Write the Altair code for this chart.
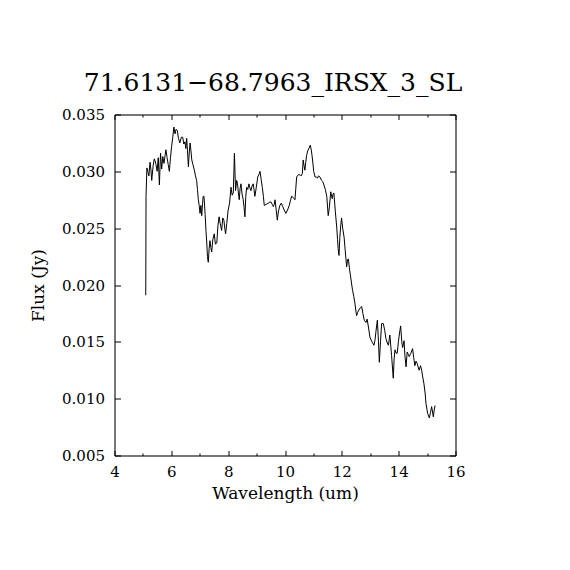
import altair as alt
import pandas as pd

wavelength = [
    5.10, 5.11, 5.14, 5.17, 5.21, 5.25, 5.28, 5.31, 5.36, 5.40, 5.43, 5.46, 5.50, 5.54, 5.58,
    5.62, 5.66, 5.70, 5.74, 5.78, 5.81, 5.85, 5.89, 5.93, 5.97, 6.01, 6.05, 6.09, 6.13, 6.17,
    6.21, 6.25, 6.30, 6.35, 6.40, 6.44, 6.48, 6.51, 6.54, 6.57, 6.60, 6.63, 6.66, 6.69, 6.72,
    6.76, 6.81, 6.85, 6.89, 6.92, 6.95, 6.98, 7.01, 7.04, 7.07, 7.10, 7.12, 7.15, 7.19, 7.22,
    7.25, 7.27, 7.30, 7.33, 7.36, 7.39, 7.42, 7.46, 7.51, 7.55, 7.60, 7.64, 7.68, 7.72, 7.77,
    7.81, 7.85, 7.88, 7.91, 7.95, 8.00, 8.05, 8.10, 8.14, 8.18, 8.22, 8.26, 8.30, 8.33, 8.36,
    8.39, 8.42, 8.45, 8.49, 8.53, 8.56, 8.59, 8.62, 8.65, 8.69, 8.73, 8.76, 8.80, 8.84, 8.88,
    8.91, 8.94, 8.99, 9.04, 9.08, 9.12, 9.16, 9.20, 9.24, 9.27, 9.34, 9.41, 9.47, 9.51, 9.55,
    9.59, 9.62, 9.65, 9.69, 9.73, 9.77, 9.82, 9.87, 9.92, 9.97, 10.03, 10.09, 10.15, 10.19,
    10.23, 10.29, 10.35, 10.38, 10.41, 10.47, 10.53, 10.57, 10.61, 10.64, 10.67, 10.70, 10.73,
    10.76, 10.80, 10.84, 10.89, 10.93, 10.97, 11.01, 11.06, 11.10, 11.14, 11.18, 11.23, 11.29,
    11.33, 11.37, 11.42, 11.47, 11.52, 11.56, 11.61, 11.64, 11.66, 11.69, 11.72, 11.77, 11.82,
    11.85, 11.87, 11.90, 11.93, 11.96, 11.99, 12.03, 12.08, 12.12, 12.17, 12.20, 12.23, 12.27,
    12.31, 12.35, 12.38, 12.42, 12.46, 12.49, 12.52, 12.56, 12.60, 12.65, 12.70, 12.74, 12.79,
    12.85, 12.89, 12.93, 12.99, 13.06, 13.13, 13.17, 13.20, 13.25, 13.29, 13.32, 13.36, 13.40,
    13.46, 13.51, 13.55, 13.60, 13.64, 13.69, 13.75, 13.81, 13.84, 13.87, 13.91, 13.95, 13.99,
    14.02, 14.07, 14.11, 14.14, 14.19, 14.22, 14.26, 14.30, 14.34, 14.37, 14.43, 14.49, 14.53,
    14.57, 14.61, 14.65, 14.72, 14.77, 14.81, 14.84, 14.89, 14.93, 14.96, 15.02, 15.08, 15.12,
    15.16, 15.22, 15.25, 15.28,
]

flux = [
    0.0191, 0.0278, 0.0303, 0.0300, 0.0296, 0.0308, 0.0302, 0.0292, 0.0305, 0.0311, 0.0309, 0.0306,
    0.0300, 0.0312, 0.0288, 0.0316, 0.0302, 0.0313, 0.0307, 0.0314, 0.0319, 0.0312, 0.0306, 0.0300,
    0.0312, 0.0322, 0.0330, 0.0339, 0.0333, 0.0337, 0.0336, 0.0329, 0.0325, 0.0330, 0.0330, 0.0324,
    0.0326, 0.0320, 0.0329, 0.0318, 0.0304, 0.0316, 0.0325, 0.0318, 0.0310, 0.0306, 0.0301, 0.0296,
    0.0292, 0.0284, 0.0275, 0.0270, 0.0263, 0.0270, 0.0261, 0.0272, 0.0278, 0.0278, 0.0262, 0.0247,
    0.0236, 0.0225, 0.0220, 0.0232, 0.0239, 0.0233, 0.0229, 0.0240, 0.0245, 0.0236, 0.0237, 0.0252,
    0.0260, 0.0254, 0.0248, 0.0259, 0.0257, 0.0250, 0.0245, 0.0254, 0.0266, 0.0272, 0.0286, 0.0279,
    0.0281, 0.0316, 0.0283, 0.0292, 0.0289, 0.0281, 0.0275, 0.0285, 0.0289, 0.0280, 0.0275, 0.0268,
    0.0260, 0.0278, 0.0286, 0.0284, 0.0289, 0.0286, 0.0283, 0.0287, 0.0289, 0.0284, 0.0278, 0.0286,
    0.0295, 0.0297, 0.0300, 0.0293, 0.0286, 0.0278, 0.0270, 0.0271, 0.0272, 0.0273, 0.0273, 0.0271,
    0.0269, 0.0271, 0.0275, 0.0266, 0.0257, 0.0265, 0.0270, 0.0272, 0.0269, 0.0266, 0.0263, 0.0266,
    0.0270, 0.0274, 0.0278, 0.0277, 0.0275, 0.0285, 0.0295, 0.0297, 0.0297, 0.0296, 0.0298, 0.0310,
    0.0305, 0.0301, 0.0308, 0.0314, 0.0318, 0.0320, 0.0323, 0.0318, 0.0310, 0.0300, 0.0295, 0.0295,
    0.0294, 0.0296, 0.0295, 0.0292, 0.0291, 0.0288, 0.0284, 0.0278, 0.0261, 0.0268, 0.0282, 0.0278,
    0.0276, 0.0280, 0.0281, 0.0265, 0.0251, 0.0240, 0.0232, 0.0226, 0.0242, 0.0252, 0.0259, 0.0250,
    0.0242, 0.0230, 0.0216, 0.0222, 0.0223, 0.0214, 0.0207, 0.0200, 0.0195, 0.0190, 0.0184, 0.0178,
    0.0173, 0.0176, 0.0178, 0.0180, 0.0181, 0.0175, 0.0169, 0.0167, 0.0170, 0.0164, 0.0154, 0.0150,
    0.0147, 0.0152, 0.0159, 0.0169, 0.0150, 0.0132, 0.0150, 0.0166, 0.0166, 0.0160, 0.0153, 0.0149,
    0.0147, 0.0156, 0.0138, 0.0118, 0.0135, 0.0143, 0.0140, 0.0140, 0.0150, 0.0156, 0.0164, 0.0150,
    0.0145, 0.0151, 0.0138, 0.0128, 0.0141, 0.0139, 0.0137, 0.0140, 0.0144, 0.0136, 0.0129, 0.0133,
    0.0131, 0.0125, 0.0129, 0.0125, 0.0120, 0.0113, 0.0105, 0.0096, 0.0087, 0.0083, 0.0088, 0.0093,
    0.0084, 0.0090, 0.0094,
]

x_major = [4, 6, 8, 10, 12, 14, 16]
x_minor = [5, 7, 9, 11, 13, 15]
y_major = [0.005, 0.010, 0.015, 0.020, 0.025, 0.030, 0.035]

title_text = "71.6131\u221268.7963_IRSX_3_SL"
x_title = "Wavelength (um)"
y_title = "Flux (Jy)"

n = min(len(wavelength), len(flux))
df = pd.DataFrame({"wl": wavelength[:n], "flux": flux[:n]})

FONT = "DejaVu Serif"
xscale = alt.Scale(domain=[4, 16], nice=False, zero=False)
yscale = alt.Scale(domain=[0.005, 0.035], nice=False, zero=False)

common_axis = dict(grid=False, tickColor="black", tickWidth=1, domainColor="black",
                   domainWidth=1, labelColor="black", titleColor="black", labelFont=FONT,
                   titleFont=FONT, labelFontSize=15, titleFontSize=17, titleFontWeight="normal")


def layer(xaxis, yaxis, visible):
    return alt.Chart(df).mark_line(
        color="black", strokeWidth=1, opacity=1 if visible else 0, interpolate="linear"
    ).encode(
        x=alt.X("wl:Q", scale=xscale, axis=xaxis),
        y=alt.Y("flux:Q", scale=yscale, axis=yaxis),
    )


def tick_axis(orient, values, size, **kw):
    return alt.Axis(orient=orient, values=values, tickSize=size, offset=-size, domain=False,
                    **kw, **common_axis)


def frame_axis(orient):
    return alt.Axis(orient=orient, domain=True, ticks=False, labels=False, title=None,
                    offset=0, **common_axis)


xa_bottom = tick_axis("bottom", x_major, 5, format="d", labelPadding=9, title=x_title,
                      titlePadding=6, labelFlush=False, labelOverlap=False)
ya_left = tick_axis("left", y_major, 6, format=".3f", labelPadding=10, title=y_title,
                    titlePadding=14, labelFlush=False, labelOverlap=False)
xa_top = tick_axis("top", x_major, 5, labels=False, title=None)
ya_right = tick_axis("right", y_major, 6, labels=False, title=None)
xa_bottom_minor = tick_axis("bottom", x_minor, 2.5, labels=False, title=None)
xa_top_minor = tick_axis("top", x_minor, 2.5, labels=False, title=None)

chart = alt.layer(
    layer(xa_bottom, ya_left, True),
    layer(xa_top, ya_right, False),
    layer(xa_bottom_minor, None, False),
    layer(xa_top_minor, None, False),
    layer(frame_axis("bottom"), frame_axis("left"), False),
    layer(frame_axis("top"), frame_axis("right"), False),
).resolve_axis(x="independent", y="independent").properties(
    width=341,
    height=341,
    padding={"left": 106.5, "top": 106.5, "right": 100, "bottom": 100},
    autosize=alt.AutoSizeParams(type="none"),
    title=alt.TitleParams(title_text, font=FONT, fontSize=25, fontWeight="normal",
                          color="black", anchor="middle", dx=-12, offset=12),
).configure_view(stroke=None).configure(background="white")

chart.save("out.html", embed_options={"renderer": "svg", "actions": False})
